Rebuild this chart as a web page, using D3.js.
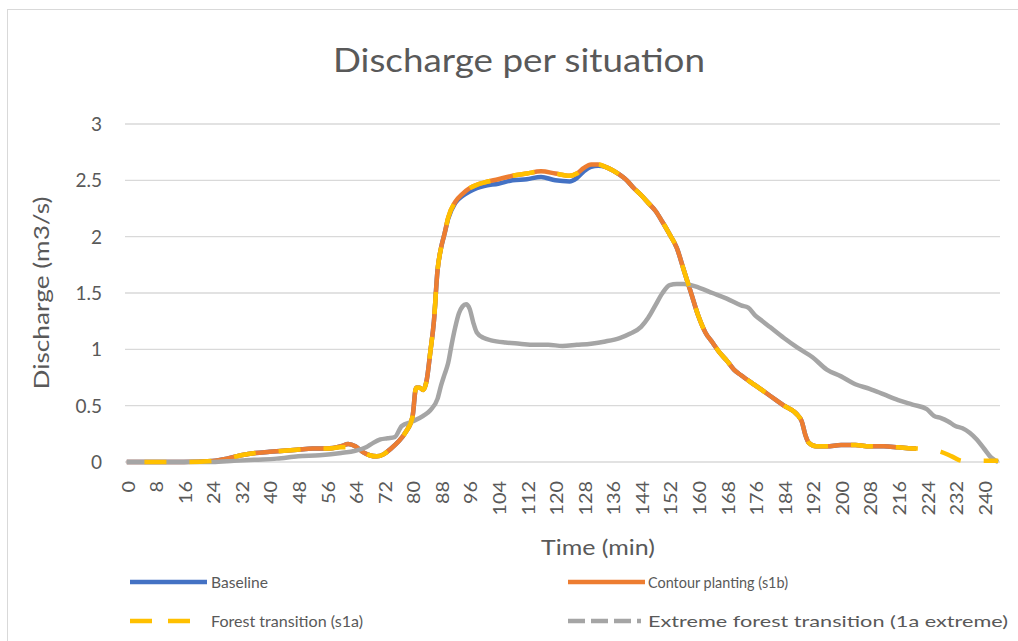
<!DOCTYPE html>
<html>
<head>
<meta charset="utf-8">
<script src="https://cdn.jsdelivr.net/npm/d3@7"></script>
<style>
  html, body { margin: 0; padding: 0; background: #ffffff; }
  svg text { font-family: Lato, "Open Sans", sans-serif; fill: #595959; }
</style>
</head>
<body>
<svg id="chart" width="1018" height="641"></svg>
<script>
// Discharge hydrographs (m3/s) for four land-use situations.

// Shared time stamps (min) for baseline, contour planting and forest transition
const timeMin = [0, 8, 16, 24, 28, 32, 36, 40, 44, 48, 52, 56, 60, 62, 64, 66, 68, 70, 72, 74,
  76, 78, 80, 81, 82, 83, 84, 85, 86, 87, 88, 89, 90, 92, 94, 96, 98, 100, 104, 108,
  112, 116, 120, 124, 126, 128, 130, 132, 134, 136, 138, 140, 142, 144, 146, 148, 150, 152, 154, 156,
  158, 160, 162, 164, 166, 168, 170, 172, 176, 180, 184, 188, 189, 190, 191, 193, 196, 200, 204, 208,
  212, 216, 220, 221];

const baselineQ = [0, 0, 0, 0.01, 0.03, 0.06, 0.08, 0.09, 0.10, 0.11, 0.12, 0.12, 0.14, 0.16, 0.14, 0.09, 0.06, 0.05, 0.07, 0.12,
  0.18, 0.26, 0.40, 0.66, 0.66, 0.64, 0.73, 0.98, 1.25, 1.70, 1.90, 2.03, 2.16, 2.30, 2.36, 2.40, 2.43, 2.45, 2.47, 2.50,
  2.51, 2.53, 2.50, 2.49, 2.52, 2.58, 2.62, 2.63, 2.62, 2.59, 2.55, 2.50, 2.43, 2.37, 2.30, 2.23, 2.13, 2.02, 1.90, 1.70,
  1.50, 1.30, 1.15, 1.06, 0.97, 0.90, 0.82, 0.77, 0.68, 0.59, 0.50, 0.41, 0.36, 0.24, 0.17, 0.14, 0.14, 0.15, 0.15, 0.14,
  0.14, 0.13, 0.12, 0.12];

const contourQ = [0, 0, 0, 0.01, 0.03, 0.06, 0.08, 0.09, 0.10, 0.11, 0.12, 0.12, 0.14, 0.16, 0.14, 0.09, 0.06, 0.05, 0.07, 0.12,
  0.18, 0.26, 0.40, 0.66, 0.66, 0.64, 0.73, 0.98, 1.25, 1.70, 1.90, 2.03, 2.17, 2.31, 2.38, 2.43, 2.46, 2.48, 2.51, 2.54,
  2.56, 2.58, 2.56, 2.54, 2.56, 2.61, 2.64, 2.64, 2.62, 2.59, 2.55, 2.50, 2.43, 2.37, 2.30, 2.23, 2.13, 2.02, 1.90, 1.70,
  1.50, 1.30, 1.15, 1.06, 0.97, 0.90, 0.82, 0.77, 0.68, 0.59, 0.50, 0.41, 0.36, 0.24, 0.17, 0.14, 0.14, 0.15, 0.15, 0.14,
  0.14, 0.13, 0.12, 0.12];

// Forest transition runs a little longer than the other two records
const forestTime = timeMin.concat([224, 228, 231, 234, 236, 240, 244]);
const forestQ = [0, 0, 0, 0.01, 0.03, 0.06, 0.08, 0.09, 0.10, 0.11, 0.12, 0.12, 0.13, 0.13, 0.12, 0.09, 0.06, 0.05, 0.07, 0.12,
  0.18, 0.26, 0.40, 0.66, 0.66, 0.64, 0.73, 0.98, 1.25, 1.70, 1.90, 2.03, 2.17, 2.31, 2.38, 2.43, 2.46, 2.48, 2.51, 2.54,
  2.56, 2.58, 2.56, 2.54, 2.56, 2.61, 2.64, 2.64, 2.62, 2.59, 2.55, 2.50, 2.43, 2.37, 2.30, 2.23, 2.13, 2.02, 1.90, 1.70,
  1.50, 1.30, 1.15, 1.06, 0.97, 0.90, 0.82, 0.77, 0.68, 0.59, 0.50, 0.41, 0.36, 0.24, 0.17, 0.14, 0.14, 0.15, 0.15, 0.14,
  0.14, 0.13, 0.12, 0.12, 0.11, 0.09, 0.05, 0.01, 0.01, 0.01, 0.01];

// Extreme forest transition
const extremeTime = [0, 8, 16, 24, 30, 36, 42, 48, 54, 60, 64, 67, 69, 71, 73, 75, 77, 80, 83, 85,
  87, 88, 89, 90, 91, 92, 93, 94, 95, 96, 97, 98, 100, 102, 106, 110, 114, 118, 122, 126,
  130, 134, 138, 141, 144, 146, 148, 150, 152, 154, 156, 158, 160, 164, 168, 172, 174, 176, 178, 180,
  184, 188, 192, 196, 200, 204, 208, 212, 216, 220, 224, 226, 228, 230, 232, 234, 236, 238, 240, 242, 244];
const extremeQ = [0, 0, 0, 0, 0.01, 0.02, 0.03, 0.05, 0.06, 0.08, 0.10, 0.13, 0.17, 0.20, 0.21, 0.22, 0.32, 0.36, 0.41, 0.46,
  0.56, 0.68, 0.78, 0.88, 1.05, 1.20, 1.32, 1.38, 1.40, 1.36, 1.24, 1.15, 1.10, 1.08, 1.06, 1.05, 1.04, 1.04, 1.03, 1.04,
  1.05, 1.07, 1.10, 1.14, 1.20, 1.28, 1.39, 1.50, 1.57, 1.58, 1.58, 1.57, 1.55, 1.50, 1.45, 1.39, 1.37, 1.30, 1.25, 1.20,
  1.10, 1.01, 0.93, 0.82, 0.76, 0.69, 0.65, 0.60, 0.55, 0.51, 0.47, 0.41, 0.39, 0.36, 0.32, 0.30, 0.26, 0.20, 0.12, 0.04, 0];

const yTicks = [0, 0.5, 1, 1.5, 2, 2.5, 3];
const xTicks = d3.range(0, 241, 8);

const seriesNames = ["Baseline", "Contour planting (s1b)", "Forest transition (s1a)", "Extreme forest transition (1a extreme)"];
const seriesColors = ["#4472C4", "#ED7D31", "#FFC000", "#A5A5A5"];

const svg = d3.select("#chart");
const plot = { left: 125, right: 1000, top: 124, bottom: 462 };

// Chart-area frame
svg.append("rect")
  .attr("x", 7.5).attr("y", 9.5).attr("width", 1100).attr("height", 700)
  .attr("fill", "#ffffff").attr("stroke", "#D9D9D9").attr("stroke-width", 1);

const x = d3.scaleLinear().domain([-0.5, 244.5]).range([plot.left, plot.right]);
const y = d3.scaleLinear().domain([0, 3]).range([plot.bottom, plot.top]);

// Horizontal gridlines
svg.append("g").selectAll("line").data(yTicks).join("line")
  .attr("x1", plot.left).attr("x2", plot.right)
  .attr("y1", d => y(d)).attr("y2", d => y(d))
  .attr("stroke", "#D9D9D9").attr("stroke-width", 1.3);

// Y axis labels
const yAxis = svg.append("g").attr("transform", `translate(${plot.left - 23},0)`)
  .call(d3.axisLeft(y).tickValues(yTicks).tickSize(0).tickPadding(0).tickFormat(d3.format("~g")));
yAxis.select(".domain").remove();
yAxis.selectAll("text").attr("font-size", 19).attr("fill", "#595959")
  .attr("font-family", "Lato, sans-serif").attr("dy", "0.35em");

// X axis labels (rotated)
const xAxis = svg.append("g").attr("transform", `translate(0,${plot.bottom})`)
  .call(d3.axisBottom(x).tickValues(xTicks).tickSize(0).tickPadding(0));
xAxis.select(".domain").remove();
xAxis.selectAll("text")
  .attr("font-size", 18).attr("fill", "#595959").attr("font-family", "Lato, sans-serif")
  .attr("text-anchor", "end")
  .attr("transform", "translate(1,19) rotate(-90)")
  .attr("x", 0).attr("y", 0).attr("dy", "0.35em")
  .attr("textLength", d => String(d).length * 11.5)
  .attr("lengthAdjust", "spacingAndGlyphs");

// Series lines
const line = d3.line().x(d => x(d[0])).y(d => y(d[1])).curve(d3.curveMonotoneX);
const pairs = (ts, vs) => ts.map((t, i) => [t, vs[i]]);
const lw = 4.5;

svg.append("path").datum(pairs(timeMin, baselineQ)).attr("d", line)
  .attr("fill", "none").attr("stroke", seriesColors[0]).attr("stroke-width", lw).attr("stroke-linejoin", "round");
svg.append("path").datum(pairs(timeMin, contourQ)).attr("d", line)
  .attr("fill", "none").attr("stroke", seriesColors[1]).attr("stroke-width", lw).attr("stroke-linejoin", "round");
svg.append("path").datum(pairs(extremeTime, extremeQ)).attr("d", line)
  .attr("fill", "none").attr("stroke", seriesColors[3]).attr("stroke-width", lw).attr("stroke-linejoin", "round");

const dash = 22, gap = 23;
const forestPath = svg.append("path").datum(pairs(forestTime, forestQ)).attr("d", line)
  .attr("fill", "none").attr("stroke", seriesColors[2]).attr("stroke-width", lw)
  .attr("stroke-linejoin", "round").attr("stroke-dasharray", `${dash},${gap}`);

// Phase the dashes so that a gap opens where the contour-planting record stops
(function phaseDashes() {
  const node = forestPath.node();
  const total = node.getTotalLength();
  const targetX = x(timeMin[timeMin.length - 1]) + 1;
  let lo = 0, hi = total;
  for (let k = 0; k < 40; k++) {
    const mid = (lo + hi) / 2;
    if (node.getPointAtLength(mid).x < targetX) lo = mid; else hi = mid;
  }
  const period = dash + gap;
  const offset = ((dash - lo) % period + period) % period;
  forestPath.attr("stroke-dashoffset", offset);
})();

// Title
svg.append("text").attr("x", 519).attr("y", 72).attr("text-anchor", "middle")
  .attr("font-size", 32).attr("textLength", 372).attr("lengthAdjust", "spacingAndGlyphs")
  .text("Discharge per situation");

// Axis titles
svg.append("text").attr("transform", "translate(49,293) rotate(-90)").attr("text-anchor", "middle")
  .attr("font-size", 21).attr("textLength", 193).attr("lengthAdjust", "spacingAndGlyphs")
  .text("Discharge (m3/s)");
svg.append("text").attr("x", 598).attr("y", 555).attr("text-anchor", "middle")
  .attr("font-size", 21).attr("textLength", 114).attr("lengthAdjust", "spacingAndGlyphs")
  .text("Time (min)");

// Legend
const legendItems = [
  { name: seriesNames[0], color: seriesColors[0], x1: 130, x2: 207, tx: 211, y: 582, tw: 57, dashArr: null },
  { name: seriesNames[1], color: seriesColors[1], x1: 568, x2: 645, tx: 648, y: 582, tw: 140, dashArr: null },
  { name: seriesNames[2], color: seriesColors[2], x1: 130, x2: 190, tx: 211, y: 621, tw: 152, dashArr: "22,16" },
  { name: seriesNames[3], color: seriesColors[3], x1: 568, x2: 641, tx: 648, y: 621, tw: 360, dashArr: "17,6" }
];
const lg = svg.append("g").selectAll("g").data(legendItems).join("g");
lg.append("line")
  .attr("x1", d => d.x1).attr("x2", d => d.x2).attr("y1", d => d.y).attr("y2", d => d.y)
  .attr("stroke", d => d.color).attr("stroke-width", lw)
  .attr("stroke-dasharray", d => d.dashArr);
lg.append("text")
  .attr("x", d => d.tx).attr("y", d => d.y).attr("dy", "0.35em")
  .attr("font-size", 16).attr("textLength", d => d.tw).attr("lengthAdjust", "spacingAndGlyphs")
  .text(d => d.name);
</script>
</body>
</html>
